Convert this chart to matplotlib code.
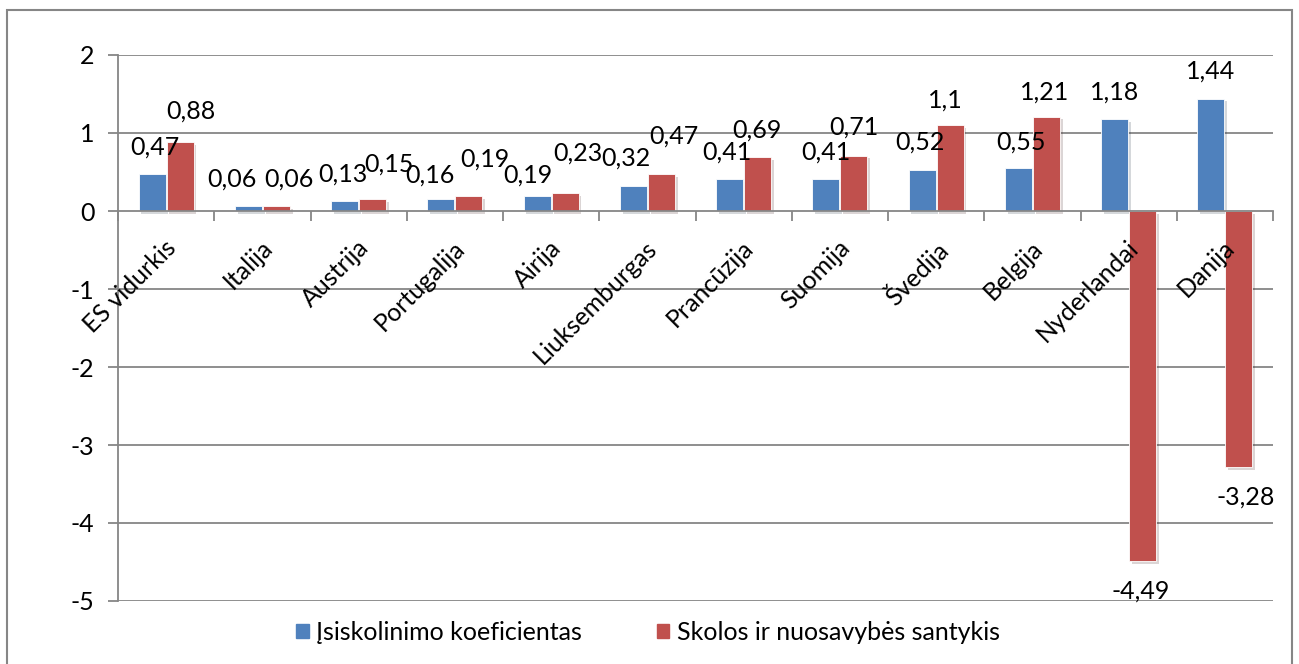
import numpy as np
import matplotlib.pyplot as plt
from matplotlib.patches import Rectangle, Patch
import matplotlib.patheffects as pe

plt.rcParams['font.family'] = ['Lato', 'DejaVu Sans']

# Data
countries = ['ES vidurkis', 'Italija', 'Austrija', 'Portugalija', 'Airija',
             'Liuksemburgas', 'Prancūzija', 'Suomija', 'Švedija', 'Belgija',
             'Nyderlandai', 'Danija']
leverage = [0.47, 0.06, 0.13, 0.16, 0.19, 0.32, 0.41, 0.41, 0.52, 0.55, 1.18, 1.44]
debt_equity = [0.88, 0.06, 0.15, 0.19, 0.23, 0.47, 0.69, 0.71, 1.1, 1.21, -4.49, -3.28]
series_names = ['Įsiskolinimo koeficientas', 'Skolos ir nuosavybės santykis']

# label nudges in pixels (dx, extra dy) as placed in the original chart
blue_dx = [3, -16, -2, -11, -9, -8, -3, 0, -2, 3, 0, 0]
blue_dy = [0, 0, 0, -4, -6, 1, 0, 0, 1, -1, 0, 1]
red_dx = [11, 13, 16, 16, 13, 13, -1, 0, -5, -2, -2, 7]
red_dy = [4, 0, 8, 10, 13, 11, 0, 2, -2, -2, 3, 4]

blue = '#4F81BD'
red = '#C0504D'
grey = '#868686'
fs = 18

fig = plt.figure(figsize=(12.99, 6.64), dpi=100)
ax = fig.add_axes([118 / 1299, 63 / 664, 1155 / 1299, 546 / 664])

x = np.arange(len(countries))
w = 0.28
shadow = [pe.SimplePatchShadow(offset=(2, -2), alpha=0.18), pe.Normal()]
b1 = ax.bar(x - 0.145, leverage, w, color=blue, edgecolor='white', linewidth=0.6,
            zorder=3, path_effects=shadow)
b2 = ax.bar(x + 0.145, debt_equity, w, color=red, edgecolor='white', linewidth=0.6,
            zorder=3, path_effects=shadow)


def fmt(v):
    return ('%g' % v).replace('.', ',')


for i in range(len(countries)):
    ax.annotate(fmt(leverage[i]), (x[i] - 0.145, leverage[i]),
                xytext=(blue_dx[i], 27 + blue_dy[i]), textcoords='offset pixels',
                ha='center', va='center', fontsize=fs, zorder=5)
    v = debt_equity[i]
    off = 27 + red_dy[i] if v >= 0 else -30
    ax.annotate(fmt(v), (x[i] + 0.145, v),
                xytext=(red_dx[i], off), textcoords='offset pixels',
                ha='center', va='center', fontsize=fs, zorder=5)
    ax.annotate(countries[i], (x[i], 0), xytext=(-2, -25), textcoords='offset pixels',
                rotation=45, ha='right', va='top', rotation_mode='anchor',
                fontsize=fs, zorder=5)

ax.set_xlim(-0.5, 11.5)
ax.set_ylim(-5, 2)
ax.set_yticks(range(-5, 3))
ax.set_yticklabels([str(t) for t in range(-5, 3)], fontsize=fs)
for t in range(-5, 3):
    if t != 0:
        ax.axhline(t, color=grey, lw=1.3, zorder=1)

ax.set_xticks(np.arange(-0.5, 12, 1))
ax.set_xticklabels([])
ax.spines['bottom'].set_position(('data', 0))
ax.spines['bottom'].set_color(grey)
ax.spines['bottom'].set_linewidth(1.3)
ax.spines['bottom'].set_zorder(4)
ax.spines['left'].set_color(grey)
ax.spines['left'].set_linewidth(1.3)
ax.spines['top'].set_visible(False)
ax.spines['right'].set_visible(False)
ax.tick_params(axis='both', colors=grey, length=7, width=1.3, labelcolor='black')
ax.tick_params(axis='y', pad=10)

handles = [Patch(color=blue), Patch(color=red)]
fig.legend(handles, series_names, loc='center', bbox_to_anchor=(648 / 1299, 1 - 632 / 664),
           ncol=2, frameon=False, fontsize=fs, handlelength=0.5, handleheight=0.5,
           handletextpad=0.3, columnspacing=3.0)

fig.patches.append(Rectangle((7 / 1299, -0.01), 1285 / 1299, (664 - 10) / 664 + 0.01,
                             transform=fig.transFigure, fill=False,
                             edgecolor=grey, lw=1.5))

fig.savefig('out.png', dpi=100)
